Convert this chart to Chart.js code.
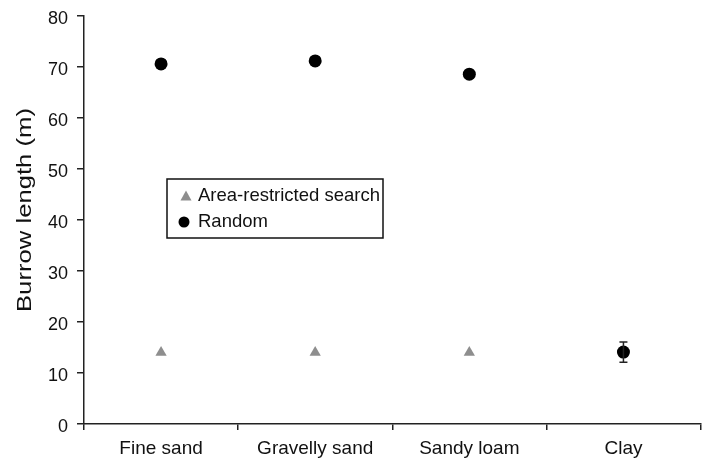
<!DOCTYPE html>
<html>
<head>
<meta charset="utf-8">
<script src="https://cdn.jsdelivr.net/npm/chart.js@4/dist/chart.umd.min.js"></script>
<style>
  html, body { margin: 0; padding: 0; background: #fff; overflow: hidden; }
  #wrap { position: relative; width: 707px; height: 459px; }
</style>
</head>
<body>
<div id="wrap"><canvas id="c" width="707" height="459"></canvas></div>
<script>
// Soil types on the x axis
const soilTypes = ['Fine sand', 'Gravelly sand', 'Sandy loam', 'Clay'];
// Mean burrow length (m) per search strategy
const areaRestricted = [14.0, 14.0, 14.0, 14.0];
const randomSearch = [70.6, 71.2, 68.6, 14.1];
// Standard error for the random strategy
const randomError = [0, 0, 0, 2.0];
const yTicks = [0, 10, 20, 30, 40, 50, 60, 70, 80];
const yTitle = 'Burrow length (m)';

const FONT = '"Liberation Sans", Arial, Helvetica, sans-serif';

// Error bars for the random-search series
const errorBars = {
  id: 'errorBars',
  afterDatasetsDraw(chart) {
    const ctx = chart.ctx;
    const meta = chart.getDatasetMeta(1);
    const y = chart.scales.y;
    ctx.save();
    ctx.strokeStyle = '#222';
    ctx.lineWidth = 1.5;
    meta.data.forEach((pt, i) => {
      const e = randomError[i];
      if (!e) return;
      const v = randomSearch[i];
      const top = y.getPixelForValue(v + e);
      const bot = y.getPixelForValue(v - e);
      const x = pt.x;
      ctx.beginPath();
      ctx.moveTo(x, top); ctx.lineTo(x, bot);
      ctx.moveTo(x - 4, top); ctx.lineTo(x + 4, top);
      ctx.moveTo(x - 4, bot); ctx.lineTo(x + 4, bot);
      ctx.stroke();
    });
    ctx.restore();
  }
};

// Rotated y-axis title, set in a slightly wide face
const axisTitle = {
  id: 'axisTitle',
  afterDraw(chart) {
    const ctx = chart.ctx;
    ctx.save();
    ctx.font = '20px ' + FONT;
    const w = ctx.measureText(yTitle).width;
    const target = 204;
    ctx.translate(25, 210);
    ctx.rotate(-Math.PI / 2);
    ctx.scale(target / w, 1);
    ctx.fillStyle = '#111';
    ctx.textAlign = 'center';
    ctx.textBaseline = 'middle';
    ctx.fillText(yTitle, 0, 0);
    ctx.restore();
  }
};

// Boxed legend inside the plot area
const boxLegend = {
  id: 'boxLegend',
  afterDraw(chart) {
    const ctx = chart.ctx;
    const x0 = 167, y0 = 179, w = 216, h = 59;
    ctx.save();
    ctx.fillStyle = '#fff';
    ctx.fillRect(x0, y0, w, h);
    ctx.strokeStyle = '#111';
    ctx.lineWidth = 1.5;
    ctx.strokeRect(x0, y0, w, h);
    const items = chart.data.datasets;
    const rows = [196, 222];
    // triangle marker
    ctx.fillStyle = items[0].backgroundColor;
    ctx.beginPath();
    ctx.moveTo(186, rows[0] - 5.5);
    ctx.lineTo(191.5, rows[0] + 4.5);
    ctx.lineTo(180.5, rows[0] + 4.5);
    ctx.closePath();
    ctx.fill();
    // circle marker
    ctx.fillStyle = items[1].backgroundColor;
    ctx.beginPath();
    ctx.arc(184, rows[1], 5.5, 0, Math.PI * 2);
    ctx.fill();
    ctx.fillStyle = '#111';
    ctx.font = '18.5px ' + FONT;
    ctx.textBaseline = 'middle';
    ctx.textAlign = 'left';
    ctx.fillText(items[0].label, 198, rows[0]);
    ctx.fillText(items[1].label, 198, rows[1]);
    ctx.restore();
  }
};

new Chart(document.getElementById('c'), {
  type: 'line',
  data: {
    labels: soilTypes,
    datasets: [
      {
        label: 'Area-restricted search',
        data: areaRestricted,
        showLine: false,
        pointStyle: 'triangle',
        pointRadius: 6.5,
        backgroundColor: '#8e8e8e',
        borderColor: '#8e8e8e',
        borderWidth: 0,
        order: 2
      },
      {
        label: 'Random',
        data: randomSearch,
        showLine: false,
        pointStyle: 'circle',
        pointRadius: 6.5,
        backgroundColor: '#000',
        borderColor: '#000',
        borderWidth: 0,
        order: 1
      }
    ]
  },
  options: {
    responsive: false,
    animation: false,
    events: [],
    layout: { padding: { top: 16, right: 0, left: 0, bottom: 0 } },
    plugins: { legend: { display: false }, tooltip: { enabled: false } },
    scales: {
      x: {
        type: 'category',
        offset: true,
        afterFit(s) { s.height = 35; s.paddingLeft = 0; s.paddingRight = 0; },
        grid: {
          offset: true,
          drawOnChartArea: false,
          drawTicks: true,
          tickLength: 6,
          color: '#222',
          lineWidth: 1.5
        },
        border: { color: '#222', width: 1.5 },
        ticks: { color: '#111', font: { size: 19, family: FONT }, padding: 7 }
      },
      y: {
        min: 0,
        max: 80,
        afterFit(s) { s.width = 84; s.paddingTop = 0; s.paddingBottom = 0; },
        afterBuildTicks(s) { s.ticks = yTicks.map(v => ({ value: v })); },
        grid: {
          drawOnChartArea: false,
          drawTicks: true,
          tickLength: 7,
          color: '#222',
          lineWidth: 1.5
        },
        border: { color: '#222', width: 1.5 },
        ticks: { color: '#111', font: { size: 18, family: FONT }, padding: 9, labelOffset: 3 }
      }
    }
  },
  plugins: [errorBars, axisTitle, boxLegend]
});
</script>
</body>
</html>
